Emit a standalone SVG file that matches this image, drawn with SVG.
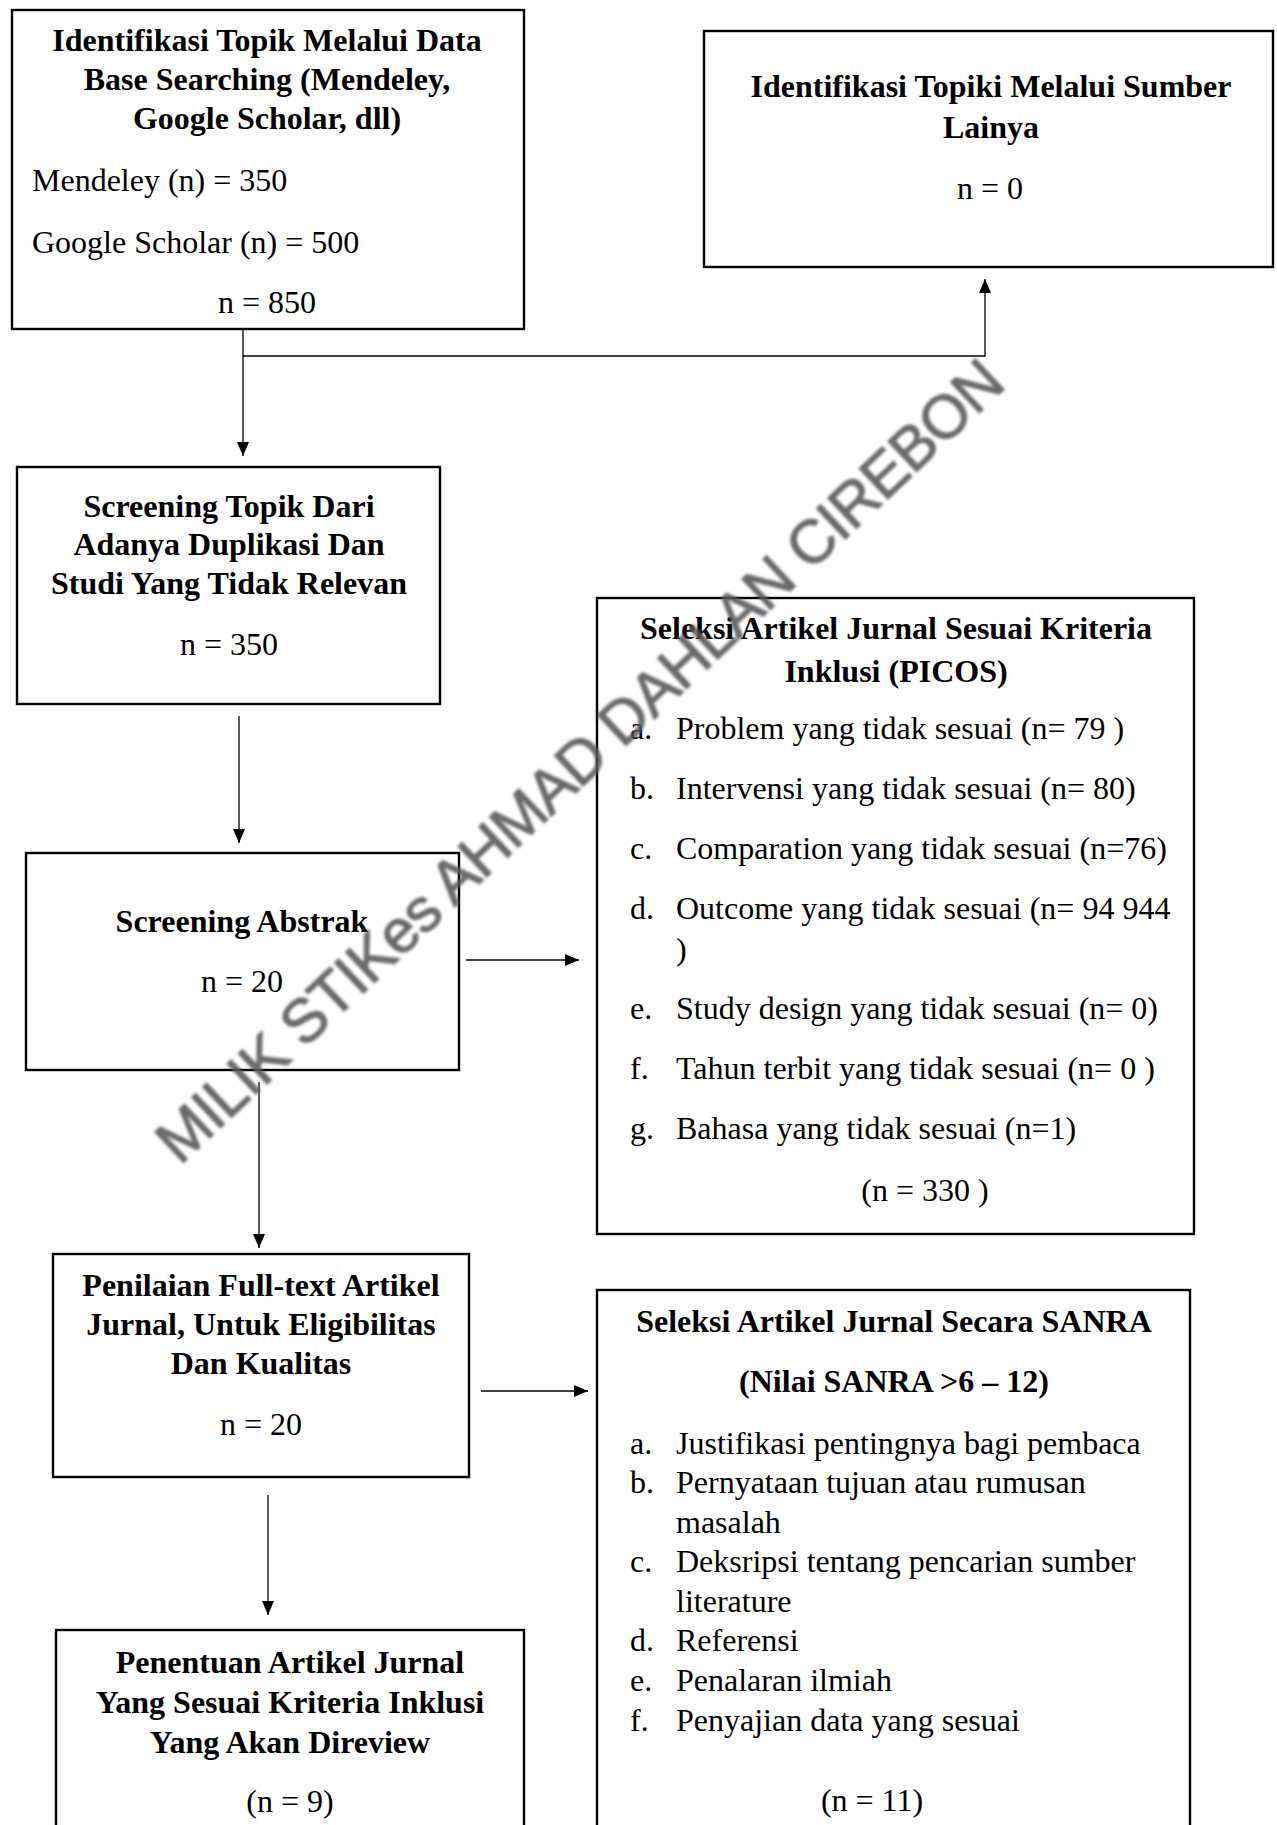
<svg xmlns="http://www.w3.org/2000/svg" width="1277" height="1825" viewBox="0 0 1277 1825">
<style>
.box{fill:none;stroke:#000;stroke-width:2.4}
.conn{fill:none;stroke:#000;stroke-width:1.3}
.b{font-family:"Liberation Serif","Times New Roman",serif;font-weight:bold;font-size:32px;fill:#000}
.r{font-family:"Liberation Serif","Times New Roman",serif;font-size:32px;fill:#000}
.c{text-anchor:middle}
.wm{font-family:"Liberation Sans",Arial,sans-serif;font-size:61px;letter-spacing:-1px;fill:#5a5a5a;stroke:#5a5a5a;stroke-width:1.2}
</style>
<defs>
<marker id="arr" viewBox="0 0 14 12" refX="14" refY="6" markerWidth="14" markerHeight="12" markerUnits="userSpaceOnUse" orient="auto">
<path d="M0,0 L14,6 L0,12 z" fill="#000"/>
</marker>
<filter id="blur" x="-5%" y="-5%" width="110%" height="110%">
<feGaussianBlur stdDeviation="1.4"/>
</filter>
</defs>
<rect width="1277" height="1825" fill="#fff"/>

<g id="node-identifikasi-db">
<rect class="box" x="12" y="10" width="512" height="319"/>
<text class="b c" x="267" y="51">Identifikasi Topik Melalui Data</text>
<text class="b c" x="267" y="90">Base Searching (Mendeley,</text>
<text class="b c" x="267" y="129">Google Scholar, dll)</text>
<text class="r" x="32" y="191">Mendeley (n) = 350</text>
<text class="r" x="32" y="253">Google Scholar (n) = 500</text>
<text class="r c" x="267" y="313">n = 850</text>
</g>

<g id="node-identifikasi-lain">
<rect class="box" x="704" y="31" width="569" height="236"/>
<text class="b c" x="991" y="97">Identifikasi Topiki Melalui Sumber</text>
<text class="b c" x="991" y="138">Lainya</text>
<text class="r c" x="990" y="199">n = 0</text>
</g>

<g id="node-screening-topik">
<rect class="box" x="17" y="467" width="423" height="237"/>
<text class="b c" x="229" y="517">Screening Topik Dari</text>
<text class="b c" x="229" y="555">Adanya Duplikasi Dan</text>
<text class="b c" x="229" y="594">Studi Yang Tidak Relevan</text>
<text class="r c" x="229" y="655">n = 350</text>
</g>

<g id="node-seleksi-picos">
<rect class="box" x="597" y="598" width="597" height="636"/>
<text class="b c" x="896" y="639">Seleksi Artikel Jurnal Sesuai Kriteria</text>
<text class="b c" x="896" y="682">Inklusi (PICOS)</text>
<text class="r" x="630" y="739">a.</text><text class="r" x="676" y="739">Problem yang tidak sesuai (n= 79 )</text>
<text class="r" x="630" y="799">b.</text><text class="r" x="676" y="799">Intervensi yang tidak sesuai (n= 80)</text>
<text class="r" x="630" y="859">c.</text><text class="r" x="676" y="859">Comparation yang tidak sesuai (n=76)</text>
<text class="r" x="630" y="919">d.</text><text class="r" x="676" y="919">Outcome yang tidak sesuai (n= 94 944</text>
<text class="r" x="676" y="960">)</text>
<text class="r" x="630" y="1019">e.</text><text class="r" x="676" y="1019">Study design yang tidak sesuai (n= 0)</text>
<text class="r" x="630" y="1079">f.</text><text class="r" x="676" y="1079">Tahun terbit yang tidak sesuai (n= 0 )</text>
<text class="r" x="630" y="1139">g.</text><text class="r" x="676" y="1139">Bahasa yang tidak sesuai (n=1)</text>
<text class="r c" x="925" y="1201">(n = 330 )</text>
</g>

<g id="node-screening-abstrak">
<rect class="box" x="26" y="853" width="433" height="217"/>
<text class="b c" x="242" y="932">Screening Abstrak</text>
<text class="r c" x="242" y="992">n = 20</text>
</g>

<g id="node-penilaian">
<rect class="box" x="53" y="1254" width="416" height="223"/>
<text class="b c" x="261" y="1296">Penilaian Full-text Artikel</text>
<text class="b c" x="261" y="1335">Jurnal, Untuk Eligibilitas</text>
<text class="b c" x="261" y="1374">Dan Kualitas</text>
<text class="r c" x="261" y="1435">n = 20</text>
</g>

<g id="node-seleksi-sanra">
<rect class="box" x="597" y="1290" width="593" height="560"/>
<text class="b c" x="894" y="1332">Seleksi Artikel Jurnal Secara SANRA</text>
<text class="b c" x="894" y="1392">(Nilai SANRA &gt;6 – 12)</text>
<text class="r" x="630" y="1454">a.</text><text class="r" x="676" y="1454">Justifikasi pentingnya bagi pembaca</text>
<text class="r" x="630" y="1493">b.</text><text class="r" x="676" y="1493">Pernyataan tujuan atau rumusan</text>
<text class="r" x="676" y="1533">masalah</text>
<text class="r" x="630" y="1572">c.</text><text class="r" x="676" y="1572">Deksripsi tentang pencarian sumber</text>
<text class="r" x="676" y="1612">literature</text>
<text class="r" x="630" y="1651">d.</text><text class="r" x="676" y="1651">Referensi</text>
<text class="r" x="630" y="1691">e.</text><text class="r" x="676" y="1691">Penalaran ilmiah</text>
<text class="r" x="630" y="1731">f.</text><text class="r" x="676" y="1731">Penyajian data yang sesuai</text>
<text class="r c" x="872" y="1811">(n = 11)</text>
</g>

<g id="node-penentuan">
<rect class="box" x="56" y="1630" width="468" height="220"/>
<text class="b c" x="290" y="1673">Penentuan Artikel Jurnal</text>
<text class="b c" x="290" y="1713">Yang Sesuai Kriteria Inklusi</text>
<text class="b c" x="290" y="1753">Yang Akan Direview</text>
<text class="r c" x="290" y="1812">(n = 9)</text>
</g>

<g id="connectors">
<path class="conn" d="M243,329 V456" marker-end="url(#arr)"/>
<path class="conn" d="M243,356 H985 V279" marker-end="url(#arr)"/>
<path class="conn" d="M239,716 V843" marker-end="url(#arr)"/>
<path class="conn" d="M466,960 H579" marker-end="url(#arr)"/>
<path class="conn" d="M259,1082 V1248" marker-end="url(#arr)"/>
<path class="conn" d="M481,1391 H588" marker-end="url(#arr)"/>
<path class="conn" d="M268,1495 V1615" marker-end="url(#arr)"/>
</g>

<g id="watermark" filter="url(#blur)" opacity="0.9">
<text class="wm" x="180" y="1166" transform="rotate(-43.3 180 1166)">MILIK STIKes AHMAD DAHLAN CIREBON</text>
</g>
</svg>
